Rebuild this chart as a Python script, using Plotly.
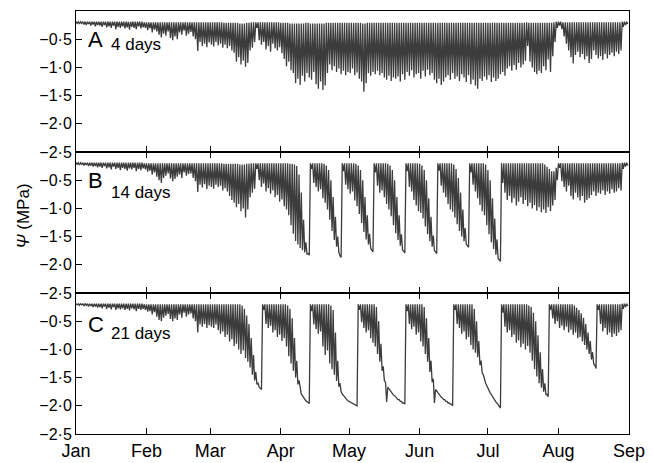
import plotly.graph_objects as go
from plotly.subplots import make_subplots

# ---------------- data (daily max = predawn, daily min = midday), MPa ----------------
month_labels = ["Jan", "Feb", "Mar", "Apr", "May", "Jun", "Jul", "Aug", "Sep"]
month_start_day = [0, 31, 59, 90, 120, 151, 181, 212, 243]
ytick_vals = [-2.5, -2.0, -1.5, -1.0, -0.5]
ytick_text = ["\u22122\u00b75", "\u22122\u00b70", "\u22121\u00b75", "\u22121\u00b70", "\u22120\u00b75"]

# Panel A : 4 days
a_min = [
    -0.22, -0.23, -0.22, -0.24, -0.25, -0.23, -0.26, -0.24, -0.27, -0.25,
    -0.26, -0.28, -0.25, -0.29, -0.27, -0.30, -0.26, -0.32, -0.28, -0.30,
    -0.27, -0.31, -0.29, -0.33, -0.28, -0.30, -0.32, -0.27, -0.31, -0.29,
    -0.30, -0.34, -0.31, -0.38, -0.33, -0.36, -0.42, -0.47, -0.40, -0.44,
    -0.36, -0.48, -0.52, -0.45, -0.50, -0.38, -0.42, -0.35, -0.44, -0.40,
    -0.37, -0.45, -0.50, -0.71, -0.55, -0.62, -0.58, -0.64, -0.56, -0.60,
    -0.63, -0.55, -0.61, -0.58, -0.65, -0.60, -0.66, -0.62, -0.70, -0.74,
    -0.90, -0.82, -0.95, -0.88, -0.99, -0.92, -0.70, -0.65, -0.55, -0.30,
    -0.52, -0.60, -0.55, -0.68, -0.62, -0.72, -0.58, -0.66, -0.70, -0.64,
    -0.75, -0.85, -0.98, -0.90, -1.05, -1.10, -1.28, -1.20, -1.31, -1.15,
    -1.25, -1.10, -1.18, -1.22, -1.08, -1.30, -1.38, -1.25, -1.40, -1.32,
    -1.10, -0.95, -1.05, -0.98, -1.08, -1.02, -1.12, -1.06, -1.14, -1.08,
    -1.10, -1.02, -1.14, -1.09, -1.20, -1.25, -1.43, -1.28, -1.10, -1.15,
    -1.08, -1.12, -1.06, -1.14, -1.10, -1.18, -1.22, -1.15, -1.24, -1.18,
    -1.20, -1.16, -1.25, -1.12, -1.22, -1.08, -1.15, -1.05, -1.18, -1.12,
    -1.10, -1.20, -1.06, -1.16, -1.04, -1.14, -1.10, -1.22, -1.28, -1.20,
    -1.31, -1.25, -1.18, -1.14, -1.22, -1.10, -1.20, -1.16, -1.24, -1.12,
    -1.18, -1.26, -1.14, -1.30, -1.22, -1.32, -1.38, -1.20, -1.24, -1.16,
    -1.22, -1.14, -1.26, -1.18, -1.24, -1.20, -1.12, -1.08, -1.15, -1.02,
    -0.98, -1.06, -0.96, -1.04, -0.92, -1.00, -0.95, -0.88, -0.62, -0.90,
    -1.00, -1.08, -1.12, -1.06, -1.10, -0.98, -1.05, -0.86, -1.08, -0.80,
    -0.55, -0.30, -0.26, -0.32, -0.45, -0.58, -0.70, -0.82, -0.93, -0.78,
    -0.72, -0.82, -0.76, -0.86, -0.80, -0.92, -0.85, -0.70, -0.78, -0.84,
    -0.80, -0.87, -0.76, -0.84, -0.78, -0.74, -0.80, -0.72, -0.76, -0.70,
    -0.28, -0.25, -0.23,
]
a_max = [
    -0.19, -0.19, -0.19, -0.19, -0.19, -0.19, -0.19, -0.19, -0.19, -0.19,
    -0.19, -0.19, -0.19, -0.19, -0.19, -0.19, -0.19, -0.19, -0.19, -0.19,
    -0.19, -0.19, -0.19, -0.19, -0.19, -0.19, -0.19, -0.19, -0.19, -0.19,
    -0.20, -0.20, -0.20, -0.20, -0.20, -0.20, -0.20, -0.20, -0.20, -0.20,
    -0.20, -0.20, -0.20, -0.20, -0.20, -0.20, -0.20, -0.20, -0.20, -0.20,
    -0.20, -0.20, -0.20, -0.20, -0.20, -0.20, -0.20, -0.20, -0.20, -0.20,
    -0.20, -0.20, -0.20, -0.20, -0.20, -0.21, -0.21, -0.21, -0.21, -0.21,
    -0.21, -0.21, -0.22, -0.22, -0.22, -0.21, -0.21, -0.20, -0.20, -0.20,
    -0.20, -0.20, -0.20, -0.20, -0.20, -0.20, -0.20, -0.20, -0.20, -0.20,
    -0.21, -0.21, -0.21, -0.21, -0.22, -0.22, -0.22, -0.22, -0.22, -0.22,
    -0.22, -0.21, -0.21, -0.22, -0.22, -0.22, -0.22, -0.22, -0.22, -0.22,
    -0.21, -0.21, -0.21, -0.21, -0.21, -0.21, -0.21, -0.21, -0.21, -0.21,
    -0.21, -0.21, -0.21, -0.21, -0.21, -0.21, -0.22, -0.22, -0.21, -0.21,
    -0.21, -0.21, -0.21, -0.21, -0.21, -0.21, -0.21, -0.21, -0.21, -0.21,
    -0.21, -0.21, -0.21, -0.21, -0.21, -0.21, -0.21, -0.21, -0.21, -0.21,
    -0.21, -0.21, -0.21, -0.21, -0.21, -0.21, -0.21, -0.21, -0.21, -0.21,
    -0.21, -0.21, -0.21, -0.21, -0.21, -0.21, -0.21, -0.21, -0.21, -0.21,
    -0.21, -0.21, -0.21, -0.21, -0.21, -0.21, -0.21, -0.21, -0.21, -0.21,
    -0.21, -0.21, -0.21, -0.21, -0.21, -0.21, -0.21, -0.21, -0.21, -0.21,
    -0.21, -0.21, -0.21, -0.21, -0.21, -0.21, -0.21, -0.21, -0.20, -0.21,
    -0.21, -0.21, -0.21, -0.21, -0.21, -0.21, -0.21, -0.21, -0.21, -0.21,
    -0.20, -0.19, -0.19, -0.19, -0.20, -0.20, -0.20, -0.20, -0.20, -0.20,
    -0.20, -0.20, -0.20, -0.20, -0.20, -0.20, -0.20, -0.20, -0.20, -0.20,
    -0.20, -0.20, -0.20, -0.20, -0.20, -0.20, -0.20, -0.20, -0.20, -0.20,
    -0.19, -0.19, -0.19,
]

# Panel B : 14 days
b_min = [
    -0.22, -0.23, -0.22, -0.24, -0.23, -0.25, -0.24, -0.26, -0.25, -0.27,
    -0.26, -0.28, -0.25, -0.29, -0.27, -0.31, -0.26, -0.30, -0.28, -0.32,
    -0.28, -0.30, -0.33, -0.29, -0.31, -0.28, -0.34, -0.30, -0.32, -0.29,
    -0.31, -0.35, -0.33, -0.40, -0.36, -0.44, -0.50, -0.55, -0.46, -0.42,
    -0.38, -0.47, -0.52, -0.48, -0.44, -0.40, -0.46, -0.36, -0.42, -0.39,
    -0.38, -0.46, -0.52, -0.71, -0.58, -0.63, -0.57, -0.66, -0.60, -0.62,
    -0.65, -0.58, -0.62, -0.60, -0.68, -0.64, -0.70, -0.78, -0.85, -0.90,
    -0.98, -0.92, -1.05, -1.00, -1.16, -1.02, -0.80, -0.72, -0.65, -0.30,
    # drought 1 (days 80-102)
    -0.50, -0.62, -0.56, -0.70, -0.64, -0.74, -0.68, -0.80, -0.76, -0.88,
    -0.84, -0.96, -1.02, -1.12, -1.30, -1.45, -1.58, -1.64, -1.70, -1.74,
    -1.78, -1.81, -1.83,
    # drought 2 (103-116)
    -0.30, -0.55, -0.62, -0.70, -0.66, -0.82, -0.90, -1.02, -1.20, -1.40, -1.56, -1.68, -1.78, -1.87,
    # drought 3 (117-130)
    -0.34, -0.58, -0.66, -0.74, -0.70, -0.86, -0.96, -1.10, -1.26, -1.42, -1.55, -1.64, -1.71, -1.77,
    # drought 4 (131-144)
    -0.36, -0.60, -0.72, -0.68, -0.80, -0.92, -1.02, -1.14, -1.30, -1.44, -1.56, -1.66, -1.74, -1.79,
    # drought 5 (145-158)
    -0.34, -0.62, -0.70, -0.85, -0.95, -1.05, -1.08, -1.18, -1.32, -1.46, -1.58, -1.68, -1.75, -1.80,
    # drought 6 (159-172)
    -0.33, -0.60, -0.72, -0.80, -0.92, -1.02, -1.06, -1.16, -1.28, -1.40, -1.50, -1.58, -1.64, -1.69,
    # drought 7 (173-186)
    -0.36, -0.58, -0.70, -0.82, -0.94, -1.05, -1.12, -1.30, -1.46, -1.60, -1.72, -1.82, -1.89, -1.94,
    # days 187-242
    -0.55, -0.72, -0.85, -0.78, -0.90, -0.82, -0.95, -0.88, -0.80, -0.92,
    -0.85, -0.96, -0.90, -1.00, -0.94, -1.04, -0.98, -1.07, -1.02, -1.08,
    -0.98, -1.05, -0.95, -0.85, -0.50, -0.28, -0.52, -0.62, -0.70, -0.60,
    -0.78, -0.84, -0.72, -0.80, -0.86, -0.78, -0.90, -0.85, -0.82, -0.76,
    -0.70, -0.78, -0.72, -0.74, -0.68, -0.76, -0.70, -0.74, -0.66, -0.72,
    -0.70, -0.64, -0.68, -0.30, -0.26, -0.24,
]
b_max = [
    -0.19, -0.19, -0.19, -0.19, -0.19, -0.19, -0.19, -0.19, -0.19, -0.19,
    -0.19, -0.19, -0.19, -0.19, -0.19, -0.19, -0.19, -0.19, -0.19, -0.19,
    -0.19, -0.19, -0.19, -0.19, -0.19, -0.19, -0.19, -0.19, -0.19, -0.19,
    -0.20, -0.20, -0.20, -0.20, -0.20, -0.20, -0.20, -0.20, -0.20, -0.20,
    -0.20, -0.20, -0.20, -0.20, -0.20, -0.20, -0.20, -0.20, -0.20, -0.20,
    -0.20, -0.20, -0.20, -0.20, -0.20, -0.20, -0.20, -0.20, -0.20, -0.20,
    -0.20, -0.20, -0.20, -0.20, -0.20, -0.21, -0.21, -0.21, -0.21, -0.21,
    -0.21, -0.21, -0.22, -0.22, -0.22, -0.21, -0.21, -0.20, -0.20, -0.20,
    -0.20, -0.20, -0.20, -0.20, -0.20, -0.20, -0.20, -0.20, -0.20, -0.20,
    -0.20, -0.20, -0.20, -0.20, -0.21, -0.21, -0.22, -0.25, -0.40, -0.72,
    -1.20, -1.60, -1.80,
    -0.20, -0.20, -0.20, -0.20, -0.20, -0.20, -0.21, -0.24, -0.32, -0.50, -0.80, -1.15, -1.50, -1.84,
    -0.20, -0.20, -0.20, -0.20, -0.20, -0.20, -0.21, -0.24, -0.32, -0.50, -0.80, -1.12, -1.45, -1.74,
    -0.20, -0.20, -0.20, -0.20, -0.20, -0.20, -0.21, -0.24, -0.32, -0.50, -0.80, -1.12, -1.46, -1.76,
    -0.20, -0.20, -0.20, -0.20, -0.20, -0.20, -0.21, -0.24, -0.32, -0.50, -0.82, -1.15, -1.48, -1.77,
    -0.20, -0.20, -0.20, -0.20, -0.20, -0.20, -0.20, -0.22, -0.30, -0.46, -0.72, -1.02, -1.35, -1.66,
    -0.20, -0.20, -0.20, -0.20, -0.20, -0.20, -0.20, -0.22, -0.32, -0.50, -0.82, -1.18, -1.55, -1.91,
    -0.20, -0.20, -0.20, -0.20, -0.20, -0.20, -0.20, -0.20, -0.20, -0.20,
    -0.20, -0.20, -0.20, -0.20, -0.20, -0.20, -0.20, -0.20, -0.20, -0.22,
    -0.26, -0.30, -0.34, -0.34, -0.28, -0.20, -0.20, -0.20, -0.20, -0.20,
    -0.20, -0.20, -0.20, -0.20, -0.20, -0.20, -0.20, -0.20, -0.20, -0.20,
    -0.20, -0.20, -0.20, -0.20, -0.20, -0.20, -0.20, -0.20, -0.20, -0.20,
    -0.20, -0.20, -0.20, -0.19, -0.19, -0.19,
]

# Panel C : 21 days
c_min = [
    -0.21, -0.22, -0.21, -0.23, -0.22, -0.24, -0.23, -0.25, -0.24, -0.26,
    -0.25, -0.27, -0.24, -0.28, -0.26, -0.29, -0.25, -0.30, -0.27, -0.29,
    -0.27, -0.30, -0.28, -0.31, -0.27, -0.29, -0.32, -0.28, -0.30, -0.28,
    -0.30, -0.33, -0.32, -0.38, -0.34, -0.42, -0.48, -0.50, -0.44, -0.40,
    -0.37, -0.46, -0.50, -0.45, -0.48, -0.38, -0.44, -0.35, -0.42, -0.38,
    -0.36, -0.45, -0.50, -0.70, -0.56, -0.60, -0.55, -0.62, -0.57, -0.60,
    # drought 1 (60-81)
    -0.62, -0.56, -0.66, -0.72, -0.68, -0.78, -0.74, -0.86, -0.82, -0.94,
    -0.90, -1.00, -1.08, -1.02, -1.15, -1.22, -1.32, -1.45, -1.55, -1.62, -1.67, -1.71,
    # drought 2 (82-102)
    -0.30, -0.55, -0.62, -0.58, -0.70, -0.66, -0.78, -0.74, -0.85, -0.80, -0.95,
    -1.12, -1.25, -1.38, -1.50, -1.62, -1.72, -1.82, -1.88, -1.93, -1.96,
    # drought 3 (103-123)
    -0.32, -0.56, -0.64, -0.72, -0.68, -0.95, -1.10, -1.02, -1.25, -1.35, -1.45,
    -1.56, -1.66, -1.75, -1.82, -1.87, -1.91, -1.94, -1.96, -1.98, -2.00,
    # drought 4 (124-144)
    -0.30, -0.52, -0.62, -0.70, -0.66, -0.80, -0.88, -0.95, -1.08, -1.22, -1.38,
    -1.55, -1.93, -1.70, -1.76, -1.81, -1.85, -1.89, -1.92, -1.95, -1.97,
    # drought 5 (145-165)
    -0.32, -0.55, -0.64, -0.60, -0.74, -0.70, -0.86, -0.95, -1.08, -1.22, -1.40,
    -1.58, -1.95, -1.74, -1.80, -1.85, -1.89, -1.92, -1.95, -1.97, -2.00,
    # drought 6 (166-186)
    -0.30, -0.55, -0.62, -0.72, -0.68, -0.82, -0.78, -0.92, -1.00, -1.06, -1.14,
    -1.28, -1.42, -1.55, -1.64, -1.72, -1.80, -1.87, -1.93, -1.98, -2.04,
    # drought 7 (187-207)
    -0.35, -0.60, -0.70, -0.66, -0.78, -0.74, -0.88, -0.84, -0.96, -0.90, -1.00,
    -0.94, -1.06, -1.20, -1.35, -1.48, -1.60, -1.68, -1.75, -1.80, -1.84,
    # drought 8 (208-228)
    -0.30, -0.45, -0.55, -0.50, -0.62, -0.58, -0.66, -0.60, -0.70, -0.65, -0.74,
    -0.70, -0.80, -0.78, -0.86, -0.92, -1.00, -1.08, -1.18, -1.26, -1.34,
    # days 229-242
    -0.30, -0.55, -0.68, -0.62, -0.74, -0.70, -0.78, -0.72, -0.76, -0.70,
    -0.66, -0.28, -0.25, -0.23,
]
c_max = [
    -0.19, -0.19, -0.19, -0.19, -0.19, -0.19, -0.19, -0.19, -0.19, -0.19,
    -0.19, -0.19, -0.19, -0.19, -0.19, -0.19, -0.19, -0.19, -0.19, -0.19,
    -0.19, -0.19, -0.19, -0.19, -0.19, -0.19, -0.19, -0.19, -0.19, -0.19,
    -0.20, -0.20, -0.20, -0.20, -0.20, -0.20, -0.20, -0.20, -0.20, -0.20,
    -0.20, -0.20, -0.20, -0.20, -0.20, -0.20, -0.20, -0.20, -0.20, -0.20,
    -0.20, -0.20, -0.20, -0.20, -0.20, -0.20, -0.20, -0.20, -0.20, -0.20,
    -0.20, -0.20, -0.20, -0.20, -0.20, -0.20, -0.20, -0.20, -0.20, -0.20,
    -0.20, -0.20, -0.20, -0.22, -0.28, -0.40, -0.55, -0.80, -1.10, -1.40, -1.60, -1.69,
    -0.20, -0.20, -0.20, -0.20, -0.20, -0.20, -0.20, -0.20, -0.20, -0.20, -0.20,
    -0.22, -0.28, -0.45, -0.80, -1.20, -1.55, -1.79, -1.86, -1.91, -1.94,
    -0.20, -0.20, -0.20, -0.20, -0.20, -0.20, -0.20, -0.20, -0.20, -0.22, -0.30,
    -0.70, -1.20, -1.60, -1.79, -1.85, -1.89, -1.92, -1.94, -1.96, -1.98,
    -0.20, -0.20, -0.20, -0.20, -0.20, -0.20, -0.20, -0.20, -0.25, -0.50, -0.90,
    -1.30, -1.58, -1.67, -1.73, -1.78, -1.82, -1.86, -1.89, -1.92, -1.95,
    -0.20, -0.20, -0.20, -0.20, -0.20, -0.20, -0.20, -0.20, -0.25, -0.45, -0.80,
    -1.20, -1.52, -1.71, -1.77, -1.82, -1.86, -1.89, -1.92, -1.95, -1.97,
    -0.20, -0.20, -0.20, -0.20, -0.20, -0.20, -0.20, -0.20, -0.20, -0.28, -0.50,
    -0.85, -1.20, -1.45, -1.60, -1.69, -1.77, -1.84, -1.90, -1.95, -2.01,
    -0.20, -0.20, -0.20, -0.20, -0.20, -0.20, -0.20, -0.20, -0.20, -0.20, -0.20,
    -0.20, -0.22, -0.25, -0.35, -0.50, -0.75, -1.05, -1.35, -1.60, -1.80,
    -0.20, -0.20, -0.20, -0.20, -0.20, -0.20, -0.20, -0.20, -0.20, -0.20, -0.20,
    -0.22, -0.26, -0.30, -0.36, -0.44, -0.55, -0.70, -0.85, -1.05, -1.28,
    -0.20, -0.20, -0.20, -0.20, -0.20, -0.20, -0.20, -0.20, -0.20, -0.20,
    -0.20, -0.19, -0.19, -0.19,
]

panels = [
    ("A", "4 days", a_max, a_min),
    ("B", "14 days", b_max, b_min),
    ("C", "21 days", c_max, c_min),
]

# ---------------- figure ----------------
fig = make_subplots(rows=3, cols=1, shared_xaxes=True, vertical_spacing=0)

line_color = "#3c3c3c"
for i, (letter, label, mx, mn) in enumerate(panels, start=1):
    xs, ys = [], []
    for d in range(len(mn)):
        xs += [d, d + 0.5]
        ys += [mx[d], mn[d]]
    fig.add_trace(
        go.Scatter(x=xs, y=ys, mode="lines",
                   line=dict(color=line_color, width=1.3),
                   hoverinfo="skip", showlegend=False),
        row=i, col=1,
    )

font_family = "Liberation Sans, Arial, sans-serif"
for i in range(1, 4):
    fig.update_yaxes(
        range=[-2.5, 0.0], tickvals=ytick_vals, ticktext=ytick_text,
        ticks="inside", ticklen=6, tickcolor="black", tickwidth=1,
        showline=True, linecolor="black", linewidth=1, mirror=True,
        showgrid=False, zeroline=False,
        tickfont=dict(family=font_family, size=16, color="black"),
        row=i, col=1,
    )
    fig.update_xaxes(
        range=[0, 243], tickvals=month_start_day, ticktext=month_labels,
        ticks="inside", ticklen=6, tickcolor="black", tickwidth=1,
        showline=True, linecolor="black", linewidth=1,
        mirror=(True if i == 1 else "ticks"),
        showgrid=False, zeroline=False,
        showticklabels=(i == 3),
        tickfont=dict(family=font_family, size=18, color="black"),
        row=i, col=1,
    )

# page geometry (the page has an 8 px body margin)
OFF = 8
FIG_W, FIG_H = 645, 455
W0, W1 = 76, 629      # plot area left/right in page px
H0, H1 = 10, 438      # plot area top/bottom in page px

def px(x):
    return (x - W0) / (W1 - W0)

def py(y):
    return (H1 - y) / (H1 - H0)

label_pos = [
    (38.5, 43.5),
    (181.5, 193.5),
    (327.0, 336.5),
]
for (letter, label, _, _), (ly, dy) in zip(panels, label_pos):
    fig.add_annotation(x=px(86), y=py(ly), xref="paper", yref="paper",
                       text=letter, showarrow=False, xanchor="left", yanchor="middle",
                       font=dict(family=font_family, size=22, color="black"))
    fig.add_annotation(x=px(109), y=py(dy), xref="paper", yref="paper",
                       text=label, showarrow=False, xanchor="left", yanchor="middle",
                       font=dict(family=font_family, size=17, color="black"))

fig.add_annotation(x=px(24), y=py(218), xref="paper", yref="paper",
                   text="<i>\u03a8</i> (MPa)", showarrow=False, textangle=-90,
                   xanchor="center", yanchor="middle",
                   font=dict(family=font_family, size=17, color="black"))

fig.update_layout(
    width=FIG_W, height=FIG_H,
    margin=dict(l=W0 - OFF, r=FIG_W - (W1 - OFF), t=H0 - OFF, b=FIG_H - (H1 - OFF)),
    paper_bgcolor="white", plot_bgcolor="white",
    showlegend=False,
)

fig.write_html("out.html")
